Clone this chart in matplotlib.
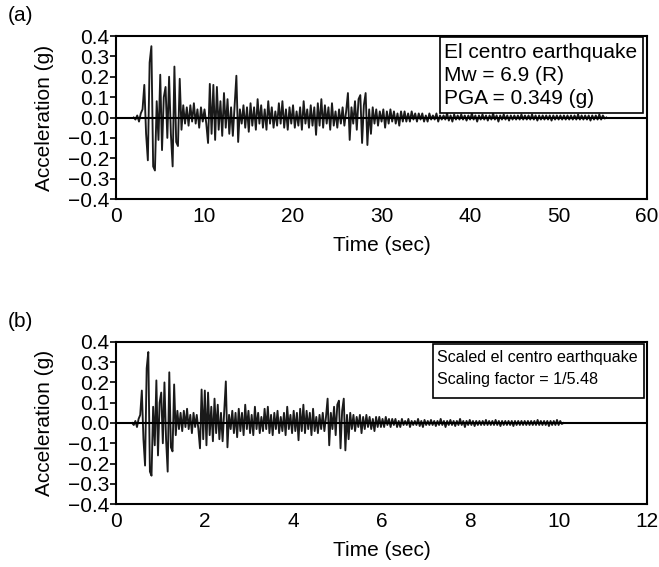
import numpy as np
import matplotlib
matplotlib.use("Agg")
import matplotlib.pyplot as plt
from matplotlib.patches import Rectangle

plt.rcParams['font.family'] = ['Liberation Sans', 'DejaVu Sans']

t_start = 2.0
dt = 0.2
accel = [
    0.00, -0.01, 0.01, -0.02, 0.02,
    0.04, 0.16, -0.08, -0.21, 0.27,
    0.35, -0.24, -0.26, 0.08, -0.11,
    0.21, -0.16, 0.10, 0.15, -0.10,
    0.20, -0.08, -0.24, 0.25, -0.12,
    -0.14, 0.19, -0.06, 0.06, -0.03,
    0.05, -0.04, 0.06, -0.02, 0.07,
    -0.03, 0.04, -0.05, 0.05, -0.02,
    0.04, -0.03, -0.125, 0.165, -0.08,
    0.16, -0.11, 0.15, -0.06, 0.08,
    -0.09, 0.12, -0.05, 0.09, -0.08,
    0.05, -0.09, 0.06, 0.205, -0.12,
    0.04, -0.03, 0.06, -0.05, 0.05,
    -0.07, 0.07, -0.04, 0.05, -0.06,
    0.09, -0.03, 0.06, -0.05, 0.04,
    -0.06, 0.08, -0.03, 0.05, -0.05,
    0.03, -0.04, 0.07, -0.03, 0.08,
    -0.05, 0.04, -0.06, 0.05, -0.03,
    0.06, -0.05, 0.03, -0.04, 0.05,
    -0.06, 0.08, -0.03, 0.04, -0.05,
    0.06, -0.04, 0.05, -0.085, 0.07,
    -0.04, 0.09, -0.05, 0.06, -0.03,
    0.05, -0.06, 0.07, -0.04, 0.03,
    -0.05, 0.04, -0.03, 0.05, -0.04,
    0.03, 0.12, -0.11, 0.05, -0.03,
    0.08, -0.06, 0.09, 0.11, -0.125,
    0.06, 0.12, -0.135, 0.04, -0.08,
    0.05, -0.03, 0.04, -0.04, 0.03,
    -0.02, 0.04, -0.05, 0.03, -0.03,
    0.04, -0.02, 0.03, -0.03, 0.02,
    -0.04, 0.03, -0.02, 0.03, -0.02,
    0.02, -0.02, 0.03, -0.01, 0.02,
    -0.02, 0.02, -0.01, 0.02, -0.02,
    0.01, -0.02, 0.02, -0.01, 0.01,
    -0.01, 0.02, -0.02, 0.01, -0.01,
    0.01, -0.01, 0.02, -0.015, 0.01,
    -0.02, 0.015, -0.01, 0.01, -0.01,
    0.015, -0.01, 0.01, -0.015, 0.01,
    -0.01, 0.02, -0.01, 0.01, -0.02,
    0.01, -0.01, 0.015, -0.01, 0.01,
    -0.015, 0.01, -0.01, 0.02, -0.01,
    0.01, -0.02, 0.01, -0.01, 0.015,
    -0.01, 0.01, -0.015, 0.01, -0.01,
    0.01, -0.01, 0.01, -0.01, 0.015,
    -0.01, 0.01, -0.01, 0.01, -0.01,
    0.015, -0.01, 0.01, -0.015, 0.01,
    -0.01, 0.01, -0.01, 0.01, -0.01,
    0.01, -0.015, 0.01, -0.01, 0.01,
    -0.01, 0.01, -0.01, 0.01, -0.01,
    0.01, -0.01, 0.01, -0.01, 0.01,
    -0.01, 0.015, -0.01, 0.01, -0.01,
    0.01, -0.01, 0.01, -0.015, 0.01,
    -0.01, 0.01, -0.01, 0.015, -0.01,
    0.01, -0.005, 0.00,
]
scale = 5.48

time_a = t_start + dt * np.arange(len(accel))
time_b = time_a / scale

yticks = [-0.4, -0.3, -0.2, -0.1, 0.0, 0.1, 0.2, 0.3, 0.4]
ytick_labels = [f"{v:.1f}".replace("-", "\u2212") for v in yticks]
xticks_a = [0, 10, 20, 30, 40, 50, 60]
xticks_b = [0, 2, 4, 6, 8, 10, 12]

note_a = "El centro earthquake\nMw = 6.9 (R)\nPGA = 0.349 (g)"
note_b = "Scaled el centro earthquake\nScaling factor = 1/5.48"

fig = plt.figure(figsize=(6.59, 5.67), dpi=100)
fs = 15

# (tag, time, xticks, axes rect, note, box [x0, y0, x1, y1] in axes fraction, text x, text y, note font, spacing)
panels = [
    ("(a)", time_a, xticks_a, [0.176, 0.649, 0.806, 0.2875], note_a,
     [0.610, 0.528, 0.9925, 0.994], 0.617, 0.955, 15, 1.25),
    ("(b)", time_b, xticks_b, [0.176, 0.111, 0.806, 0.286], note_b,
     [0.597, 0.654, 0.9935, 0.988], 0.6045, 0.950, 11.6, 1.6),
]

for tag, t, xt, pos, note, box, tx, ty, nfs, lsp in panels:
    ax = fig.add_axes(pos)
    ax.plot(t, accel, color='#1a1a1a', lw=1.35)
    ax.axhline(0, color='black', lw=1.5)
    ax.set_xlim(xt[0], xt[-1])
    ax.set_ylim(-0.4, 0.4)
    ax.set_xticks(xt)
    ax.set_yticks(yticks)
    ax.set_yticklabels(ytick_labels)
    ax.tick_params(axis='y', length=4, width=1.2, labelsize=fs, pad=1)
    ax.tick_params(axis='x', length=0, labelsize=fs, pad=6)
    for s in ax.spines.values():
        s.set_linewidth(1.5)
    ax.set_xlabel("Time (sec)", fontsize=fs, labelpad=7)
    ax.set_ylabel("Acceleration (g)", fontsize=fs, labelpad=10)
    ax.add_patch(Rectangle((box[0], box[1]), box[2] - box[0], box[3] - box[1],
                           transform=ax.transAxes, fc='white', ec='black', lw=1.2, zorder=3))
    ax.text(tx, ty, note, transform=ax.transAxes, ha='left', va='top',
            fontsize=nfs, linespacing=lsp, zorder=4)
    fig.text(0.012, pos[1] + pos[3] + 0.02, tag, fontsize=fs, ha='left', va='bottom')

fig.savefig("out.png", dpi=100)
